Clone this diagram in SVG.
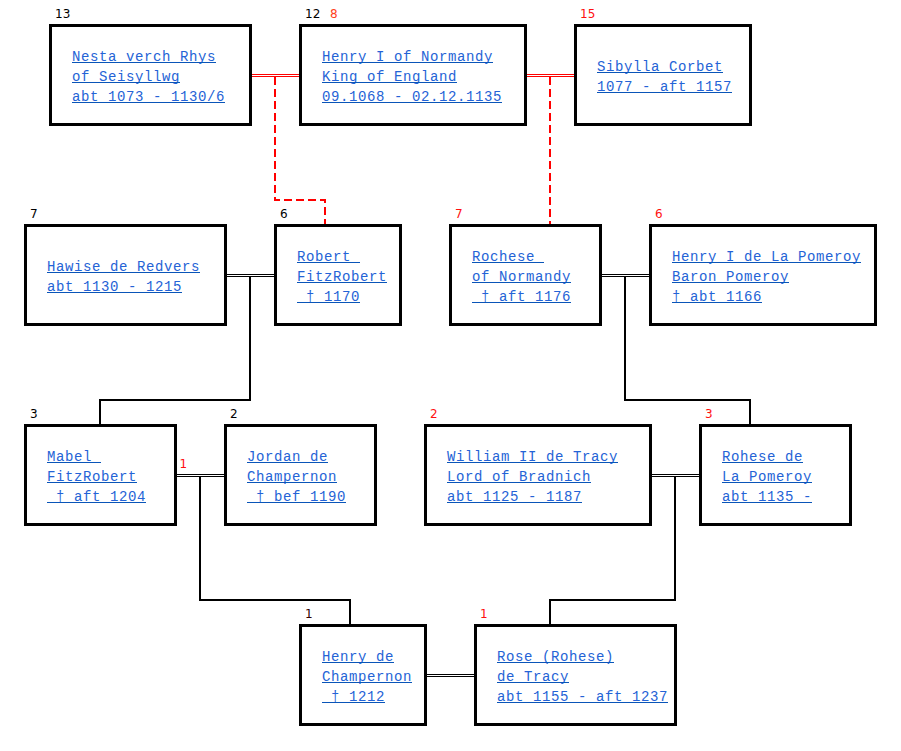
<svg xmlns="http://www.w3.org/2000/svg" width="901" height="751" viewBox="0 0 901 751" xml:space="preserve">
<style>
.box{fill:#fff;stroke:#000;stroke-width:3}
.t{font-family:"Liberation Mono","Courier New",monospace;font-size:14px;letter-spacing:0.6px;fill:#2463d6;white-space:pre}
.u{stroke:#0a55b8;stroke-width:1}
.lb{font-family:"DejaVu Sans","Verdana",sans-serif;font-size:12px;fill:#000}
.lr{font-family:"DejaVu Sans","Verdana",sans-serif;font-size:12px;fill:#ff1010}
.dbr{stroke:#ff0000;stroke-width:1;fill:none}
.dbk{stroke:#000;stroke-width:1;fill:none}
.dash{stroke:#ff0000;stroke-width:2;fill:none;stroke-dasharray:8,4}
.ln{stroke:#000;stroke-width:2;fill:none}
</style>
<rect width="901" height="751" fill="#fff"/>
<g id="connectors">
<path class="dbr" d="M252 74.5H299M252 76.5H299M527 74.5H574M527 76.5H574"/>
<path class="dash" d="M275 77V200H325V224M550 77V224"/>
<path class="dbk" d="M227 274.5H274M227 276.5H274M602 274.5H649M602 276.5H649M177 474.5H224M177 476.5H224M652 474.5H699M652 476.5H699M427 674.5H474M427 676.5H474"/>
<path class="ln" d="M250 277V400H100V424M625 277V400H750V424M200 477V600H350V624M675 477V600H550V624"/>
<text class="lr" x="179.5" y="467.5">1</text>
</g>
<g id="n13" transform="translate(50.5,25.5)">
<rect class="box" width="200" height="99"/>
<text class="lb" x="4.5" y="-8">13</text>
<text class="t" x="21.5" y="35.5">Nesta verch Rhys</text><line class="u" x1="21.5" x2="165.5" y1="37" y2="37"/>
<text class="t" x="21.5" y="55.5">of Seisyllwg</text><line class="u" x1="21.5" x2="129.5" y1="57" y2="57"/>
<text class="t" x="21.5" y="75.5">abt 1073 - 1130/6</text><line class="u" x1="21.5" x2="174.5" y1="77" y2="77"/>
</g>
<g id="n12" transform="translate(300.5,25.5)">
<rect class="box" width="225" height="99"/>
<text class="lb" x="4.5" y="-8">12</text>
<text class="lr" x="29.5" y="-8" style="fill:#ff4020">8</text>
<text class="t" x="21.5" y="35.5">Henry I of Normandy</text><line class="u" x1="21.5" x2="192.5" y1="37" y2="37"/>
<text class="t" x="21.5" y="55.5">King of England</text><line class="u" x1="21.5" x2="156.5" y1="57" y2="57"/>
<text class="t" x="21.5" y="75.5">09.1068 - 02.12.1135</text><line class="u" x1="21.5" x2="201.5" y1="77" y2="77"/>
</g>
<g id="n15" transform="translate(575.5,25.5)">
<rect class="box" width="175" height="99"/>
<text class="lr" x="4.5" y="-8">15</text>
<text class="t" x="21.5" y="45.5">Sibylla Corbet</text><line class="u" x1="21.5" x2="147.5" y1="47" y2="47"/>
<text class="t" x="21.5" y="65.5">1077 - aft 1157</text><line class="u" x1="21.5" x2="156.5" y1="67" y2="67"/>
</g>
<g id="n7a" transform="translate(25.5,225.5)">
<rect class="box" width="200" height="99"/>
<text class="lb" x="4.5" y="-8">7</text>
<text class="t" x="21.5" y="45.5">Hawise de Redvers</text><line class="u" x1="21.5" x2="174.5" y1="47" y2="47"/>
<text class="t" x="21.5" y="65.5">abt 1130 - 1215</text><line class="u" x1="21.5" x2="156.5" y1="67" y2="67"/>
</g>
<g id="n6a" transform="translate(275.5,225.5)">
<rect class="box" width="125" height="99"/>
<text class="lb" x="4.5" y="-8">6</text>
<text class="t" x="21.5" y="35.5">Robert&#160;</text><line class="u" x1="21.5" x2="84.5" y1="37" y2="37"/>
<text class="t" x="21.5" y="55.5">FitzRobert</text><line class="u" x1="21.5" x2="111.5" y1="57" y2="57"/>
<text class="t" x="21.5" y="75.5">&#160;† 1170</text><line class="u" x1="21.5" x2="84.5" y1="77" y2="77"/>
</g>
<g id="n7b" transform="translate(450.5,225.5)">
<rect class="box" width="150" height="99"/>
<text class="lr" x="4.5" y="-8">7</text>
<text class="t" x="21.5" y="35.5">Rochese&#160;</text><line class="u" x1="21.5" x2="93.5" y1="37" y2="37"/>
<text class="t" x="21.5" y="55.5">of Normandy</text><line class="u" x1="21.5" x2="120.5" y1="57" y2="57"/>
<text class="t" x="21.5" y="75.5">&#160;† aft 1176</text><line class="u" x1="21.5" x2="120.5" y1="77" y2="77"/>
</g>
<g id="n6b" transform="translate(650.5,225.5)">
<rect class="box" width="225" height="99"/>
<text class="lr" x="4.5" y="-8">6</text>
<text class="t" x="21.5" y="35.5">Henry I de La Pomeroy</text><line class="u" x1="21.5" x2="210.5" y1="37" y2="37"/>
<text class="t" x="21.5" y="55.5">Baron Pomeroy</text><line class="u" x1="21.5" x2="138.5" y1="57" y2="57"/>
<text class="t" x="21.5" y="75.5">† abt 1166</text><line class="u" x1="21.5" x2="111.5" y1="77" y2="77"/>
</g>
<g id="n3a" transform="translate(25.5,425.5)">
<rect class="box" width="150" height="99"/>
<text class="lb" x="4.5" y="-8">3</text>
<text class="t" x="21.5" y="35.5">Mabel&#160;</text><line class="u" x1="21.5" x2="75.5" y1="37" y2="37"/>
<text class="t" x="21.5" y="55.5">FitzRobert</text><line class="u" x1="21.5" x2="111.5" y1="57" y2="57"/>
<text class="t" x="21.5" y="75.5">&#160;† aft 1204</text><line class="u" x1="21.5" x2="120.5" y1="77" y2="77"/>
</g>
<g id="n2a" transform="translate(225.5,425.5)">
<rect class="box" width="150" height="99"/>
<text class="lb" x="4.5" y="-8">2</text>
<text class="t" x="21.5" y="35.5">Jordan de</text><line class="u" x1="21.5" x2="102.5" y1="37" y2="37"/>
<text class="t" x="21.5" y="55.5">Champernon</text><line class="u" x1="21.5" x2="111.5" y1="57" y2="57"/>
<text class="t" x="21.5" y="75.5">&#160;† bef 1190</text><line class="u" x1="21.5" x2="120.5" y1="77" y2="77"/>
</g>
<g id="n2b" transform="translate(425.5,425.5)">
<rect class="box" width="225" height="99"/>
<text class="lr" x="4.5" y="-8">2</text>
<text class="t" x="21.5" y="35.5">William II de Tracy</text><line class="u" x1="21.5" x2="192.5" y1="37" y2="37"/>
<text class="t" x="21.5" y="55.5">Lord of Bradnich</text><line class="u" x1="21.5" x2="165.5" y1="57" y2="57"/>
<text class="t" x="21.5" y="75.5">abt 1125 - 1187</text><line class="u" x1="21.5" x2="156.5" y1="77" y2="77"/>
</g>
<g id="n3b" transform="translate(700.5,425.5)">
<rect class="box" width="150" height="99"/>
<text class="lr" x="4.5" y="-8">3</text>
<text class="t" x="21.5" y="35.5">Rohese de</text><line class="u" x1="21.5" x2="102.5" y1="37" y2="37"/>
<text class="t" x="21.5" y="55.5">La Pomeroy</text><line class="u" x1="21.5" x2="111.5" y1="57" y2="57"/>
<text class="t" x="21.5" y="75.5">abt 1135 -</text><line class="u" x1="21.5" x2="111.5" y1="77" y2="77"/>
</g>
<g id="n1a" transform="translate(300.5,625.5)">
<rect class="box" width="125" height="99"/>
<text class="lb" x="4.5" y="-8" style="fill:#300">1</text>
<text class="t" x="21.5" y="35.5">Henry de</text><line class="u" x1="21.5" x2="93.5" y1="37" y2="37"/>
<text class="t" x="21.5" y="55.5">Champernon</text><line class="u" x1="21.5" x2="111.5" y1="57" y2="57"/>
<text class="t" x="21.5" y="75.5">&#160;† 1212</text><line class="u" x1="21.5" x2="84.5" y1="77" y2="77"/>
</g>
<g id="n1b" transform="translate(475.5,625.5)">
<rect class="box" width="200" height="99"/>
<text class="lr" x="4.5" y="-8">1</text>
<text class="t" x="21.5" y="35.5">Rose (Rohese)</text><line class="u" x1="21.5" x2="138.5" y1="37" y2="37"/>
<text class="t" x="21.5" y="55.5">de Tracy</text><line class="u" x1="21.5" x2="93.5" y1="57" y2="57"/>
<text class="t" x="21.5" y="75.5">abt 1155 - aft 1237</text><line class="u" x1="21.5" x2="192.5" y1="77" y2="77"/>
</g>
</svg>
